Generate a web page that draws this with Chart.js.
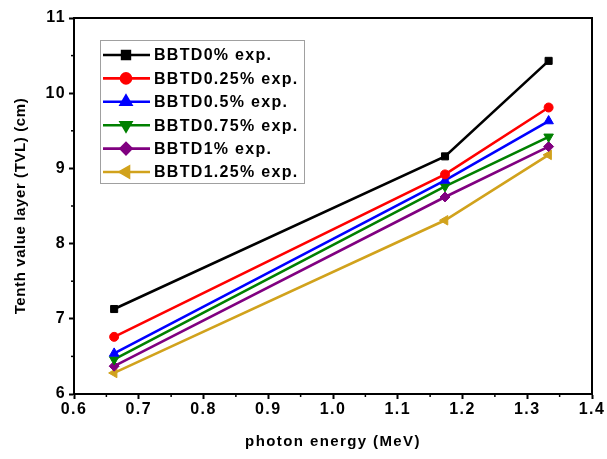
<!DOCTYPE html>
<html>
<head>
<meta charset="utf-8">
<script src="https://cdn.jsdelivr.net/npm/chart.js@4.4.1/dist/chart.umd.min.js"></script>
<style>
  html, body { margin: 0; padding: 0; background: #fff; }
  #wrap { width: 607px; height: 459px; }
</style>
</head>
<body>
<div id="wrap"><canvas id="c" width="607" height="459"></canvas></div>
<script>
// ---- data ----
const energies = [0.662, 1.173, 1.333];
const seriesLabels = ['BBTD0% exp.', 'BBTD0.25% exp.', 'BBTD0.5% exp.', 'BBTD0.75% exp.', 'BBTD1% exp.', 'BBTD1.25% exp.'];
const bbtd0   = [7.13, 9.16, 10.43];
const bbtd025 = [6.76, 8.92, 9.81];
const bbtd05  = [6.54, 8.84, 9.63];
const bbtd075 = [6.46, 8.76, 9.42];
const bbtd1   = [6.37, 8.62, 9.29];
const bbtd125 = [6.28, 8.31, 9.18];
const xTicks = [0.6, 0.7, 0.8, 0.9, 1.0, 1.1, 1.2, 1.3, 1.4];
const yTicks = [6, 7, 8, 9, 10, 11];
const yTitle = 'Tenth value layer (TVL) (cm)';
const xTitle = 'photon energy (MeV)';

const allSeries = [bbtd0, bbtd025, bbtd05, bbtd075, bbtd1, bbtd125];
const colors = ['#000000', '#ff0000', '#0000ff', '#008000', '#800080', '#d1a21c'];
const styles = [
  {pointStyle: 'rect', radius: 5, rotation: 0},
  {pointStyle: 'circle', radius: 4.5, rotation: 0},
  {pointStyle: 'triangle', radius: 5.5, rotation: 0},
  {pointStyle: 'triangle', radius: 5.5, rotation: 180},
  {pointStyle: 'rectRot', radius: 5, rotation: 0},
  {pointStyle: 'triangle', radius: 5.5, rotation: -90}
];

const datasets = allSeries.map((vals, i) => ({
  label: seriesLabels[i],
  data: energies.map((e, j) => ({x: e, y: vals[j]})),
  borderColor: colors[i],
  backgroundColor: colors[i],
  borderWidth: 2.6,
  showLine: true,
  pointStyle: styles[i].pointStyle,
  pointRadius: styles[i].radius,
  pointRotation: styles[i].rotation,
  pointBorderWidth: 1,
  tension: 0
}));

const FONT = '"Liberation Sans", Arial, sans-serif';

const framePlugin = {
  id: 'frame',
  beforeDraw(chart) {
    chart.ctx.letterSpacing = '1.4px';
  },
  afterDraw(chart) {
    const ctx = chart.ctx;
    const a = chart.chartArea;
    const xs = chart.scales.x, ys = chart.scales.y;
    ctx.save();
    ctx.strokeStyle = '#000';
    ctx.lineWidth = 2;
    // top + right frame
    ctx.beginPath();
    ctx.moveTo(a.left, a.top);
    ctx.lineTo(a.right, a.top);
    ctx.lineTo(a.right, a.bottom);
    ctx.stroke();
    // minor ticks
    ctx.lineWidth = 1.5;
    for (let i = 0; i < xTicks.length - 1; i++) {
      const px = xs.getPixelForValue((xTicks[i] + xTicks[i + 1]) / 2);
      ctx.beginPath(); ctx.moveTo(px, a.bottom); ctx.lineTo(px, a.bottom + 3); ctx.stroke();
    }
    for (let i = 0; i < yTicks.length - 1; i++) {
      const py = ys.getPixelForValue((yTicks[i] + yTicks[i + 1]) / 2);
      ctx.beginPath(); ctx.moveTo(a.left, py); ctx.lineTo(a.left - 3, py); ctx.stroke();
    }
    // y axis title
    ctx.letterSpacing = '0.6px';
    ctx.save();
    ctx.translate(21, (a.top + a.bottom) / 2);
    ctx.rotate(-Math.PI / 2);
    ctx.font = 'bold 15px ' + FONT;
    ctx.fillStyle = '#000';
    ctx.textAlign = 'center';
    ctx.textBaseline = 'middle';
    ctx.fillText(yTitle, 0, 0);
    ctx.restore();
    // legend box
    ctx.letterSpacing = '1.3px';
    const bx = a.left + 26, by = a.top + 22, bw = 204, bh = 143;
    ctx.fillStyle = '#fff';
    ctx.fillRect(bx, by, bw, bh);
    ctx.strokeStyle = '#a0a0a0';
    ctx.lineWidth = 1;
    ctx.strokeRect(bx + 0.5, by + 0.5, bw, bh);
    const rowH = 23.4;
    ctx.font = 'bold 16px ' + FONT;
    ctx.textBaseline = 'middle';
    ctx.textAlign = 'left';
    chart.data.datasets.forEach((ds, i) => {
      const cy = by + 15 + i * rowH;
      ctx.strokeStyle = ds.borderColor;
      ctx.lineWidth = 2.6;
      ctx.beginPath(); ctx.moveTo(bx + 3, cy); ctx.lineTo(bx + 50, cy); ctx.stroke();
      ctx.fillStyle = ds.backgroundColor;
      Chart.helpers.drawPoint(ctx, {pointStyle: ds.pointStyle, radius: ds.pointRadius + 0.5, rotation: ds.pointRotation, borderWidth: 1}, bx + 26, cy);
      ctx.fillStyle = '#000';
      ctx.fillText(ds.label, bx + 54, cy + 1);
    });
    ctx.restore();
  }
};

new Chart(document.getElementById('c'), {
  type: 'scatter',
  data: {datasets},
  options: {
    responsive: false,
    animation: false,
    devicePixelRatio: 1,
    layout: {padding: {left: 0, top: 18, right: 15, bottom: 0}},
    plugins: {legend: {display: false}, tooltip: {enabled: false}},
    scales: {
      x: {
        type: 'linear',
        min: 0.6, max: 1.4,
        afterBuildTicks(scale) { scale.ticks = xTicks.map(v => ({value: v})); },
        afterFit(scale) { scale.height = 65; },
        ticks: {
          color: '#000',
          font: {family: FONT, size: 16, weight: 'bold'},
          padding: 1,
          maxRotation: 0,
          callback: v => v.toFixed(1)
        },
        grid: {display: true, drawOnChartArea: false, drawTicks: true, tickLength: 5, tickWidth: 2, tickColor: '#000'},
        border: {display: true, width: 2, color: '#000'},
        title: {
          display: true, text: xTitle, color: '#000',
          font: {family: FONT, size: 15, weight: 'bold'},
          padding: {top: 8, bottom: 8}
        }
      },
      y: {
        type: 'linear',
        min: 6, max: 11,
        afterBuildTicks(scale) { scale.ticks = yTicks.map(v => ({value: v})); },
        afterFit(scale) { scale.width = 74; },
        ticks: {
          color: '#000',
          font: {family: FONT, size: 16, weight: 'bold'},
          padding: 3,
          callback: v => String(v)
        },
        grid: {display: true, drawOnChartArea: false, drawTicks: true, tickLength: 5, tickWidth: 2, tickColor: '#000'},
        border: {display: true, width: 2, color: '#000'},
        title: {display: false, text: yTitle}
      }
    }
  },
  plugins: [framePlugin]
});
</script>
</body>
</html>
